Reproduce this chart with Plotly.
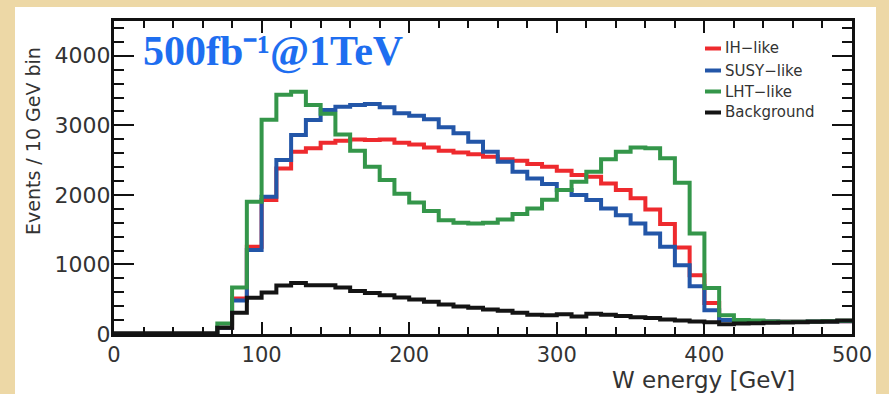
import plotly.graph_objects as go

# ---- data: 10 GeV bins from 0 to 500 GeV ----
bin_edges = [0, 10, 20, 30, 40, 50, 60, 70, 80, 90, 100, 110, 120, 130, 140, 150, 160, 170, 180, 190,
             200, 210, 220, 230, 240, 250, 260, 270, 280, 290, 300, 310, 320, 330, 340, 350, 360, 370,
             380, 390, 400, 410, 420, 430, 440, 450, 460, 470, 480, 490, 500]

ih_like = [0, 0, 0, 0, 0, 0, 0, 90, 511, 1253, 1925, 2381, 2620, 2669, 2750, 2778, 2798, 2788, 2795,
           2750, 2725, 2680, 2635, 2611, 2583, 2548, 2511, 2491, 2443, 2405, 2347, 2285, 2261, 2165,
           2069, 1950, 1791, 1580, 1245, 846, 447, 200, 190, 185, 180, 175, 175, 178, 180, 185]

susy_like = [0, 0, 0, 0, 0, 0, 0, 90, 480, 1206, 1973, 2501, 2860, 3076, 3220, 3268, 3292, 3306, 3259,
             3172, 3138, 3086, 2971, 2885, 2764, 2620, 2476, 2333, 2237, 2155, 2069, 1997, 1925, 1806,
             1709, 1590, 1446, 1253, 990, 688, 342, 200, 190, 185, 180, 175, 175, 178, 180, 185]

lht_like = [0, 0, 0, 0, 0, 0, 0, 150, 669, 1901, 3080, 3440, 3483, 3292, 3165, 2870, 2635, 2405, 2213,
            2015, 1890, 1770, 1637, 1599, 1590, 1599, 1647, 1724, 1806, 1930, 2069, 2189, 2333, 2511,
            2620, 2683, 2669, 2525, 2174, 1446, 660, 270, 200, 195, 180, 175, 175, 178, 182, 190]

background = [10, 10, 10, 10, 10, 10, 10, 90, 305, 520, 595, 698, 735, 700, 702, 669, 620, 591, 558,
              525, 496, 462, 424, 396, 376, 353, 333, 304, 275, 271, 285, 250, 290, 275, 260, 242, 230,
              209, 195, 180, 170, 140, 150, 155, 160, 165, 170, 175, 180, 195]

series_names = ["IH\u2212like", "SUSY\u2212like", "LHT\u2212like", "Background"]
series_values = [ih_like, susy_like, lht_like, background]
series_colors = ["#EE2A2E", "#2356A8", "#34964A", "#141414"]

x_tick_vals = [0, 100, 200, 300, 400, 500]
y_tick_vals = [0, 1000, 2000, 3000, 4000]

fig = go.Figure()
for name, vals, col in zip(series_names, series_values, series_colors):
    fig.add_trace(go.Scatter(
        x=bin_edges,
        y=vals + [vals[-1]],
        mode="lines",
        line=dict(shape="hv", color=col, width=4),
        name=name,
        hoverinfo="skip",
    ))

axis_font = dict(family="DejaVu Sans", size=21, color="#333333")

fig.update_xaxes(
    range=[0, 500], tickvals=x_tick_vals, ticks="inside", ticklen=12, tickwidth=2,
    tickcolor="#111111", showline=True, linewidth=3, linecolor="#111111", mirror="allticks",
    showgrid=False, zeroline=False, tickfont=axis_font,
    minor=dict(dtick=20, tick0=0, ticks="inside", ticklen=7, tickwidth=2, tickcolor="#111111", showgrid=False),
)
fig.update_yaxes(
    range=[0, 4500], tickvals=y_tick_vals, ticks="inside", ticklen=20, tickwidth=2,
    tickcolor="#111111", showline=True, linewidth=3, linecolor="#111111", mirror="allticks",
    showgrid=False, zeroline=False, tickfont=dict(family="DejaVu Sans", size=22, color="#333333"),
    ticklabelstandoff=-4,
    minor=dict(dtick=200, tick0=0, ticks="inside", ticklen=10, tickwidth=2, tickcolor="#111111", showgrid=False),
)

# pixel -> paper helpers for the fixed layout
L, R, T, B, W, H = 114, 37, 21, 60, 889, 394
pw, ph = W - L - R, H - T - B
def px(x):
    return (x - L) / pw
def py(y):
    return (H - B - y) / ph

shapes = [
    dict(type="rect", xref="paper", yref="paper", x0=px(15), x1=px(876), y0=py(7), y1=py(400),
         fillcolor="white", line=dict(width=0), layer="below"),
]
annotations = []
legend_y = [48.5, 70.5, 91.5, 112.5]
for name, col, yy in zip(series_names, series_colors, legend_y):
    shapes.append(dict(type="line", xref="paper", yref="paper", x0=px(705), x1=px(721),
                       y0=py(yy), y1=py(yy), line=dict(color=col, width=4)))
    annotations.append(dict(text=name, xref="paper", yref="paper", x=px(723), y=py(yy),
                            xanchor="left", yanchor="middle", showarrow=False,
                            font=dict(family="DejaVu Sans", size=15, color="#333333")))

annotations.append(dict(text="500fb\u207b\u00b9@1TeV", xref="paper", yref="paper",
                        x=px(141), y=py(51), xanchor="left", yanchor="middle", showarrow=False,
                        font=dict(family="Liberation Serif", size=42, color="#1E6EF0", weight="bold")))
annotations.append(dict(text="Events / 10 GeV bin", xref="paper", yref="paper",
                        x=px(33), y=py(141), xanchor="center", yanchor="middle", textangle=-90,
                        showarrow=False, font=dict(family="DejaVu Sans", size=19, color="#333333")))
annotations.append(dict(text="W energy [GeV]", xref="paper", yref="paper",
                        x=px(797), y=py(380), xanchor="right", yanchor="middle",
                        showarrow=False, font=dict(family="DejaVu Sans", size=23, color="#333333")))

fig.update_layout(
    width=W, height=H, margin=dict(l=L, r=R, t=T, b=B),
    paper_bgcolor="#EDD8A6", plot_bgcolor="white",
    showlegend=False, shapes=shapes, annotations=annotations,
)

fig.write_html("out.html")
